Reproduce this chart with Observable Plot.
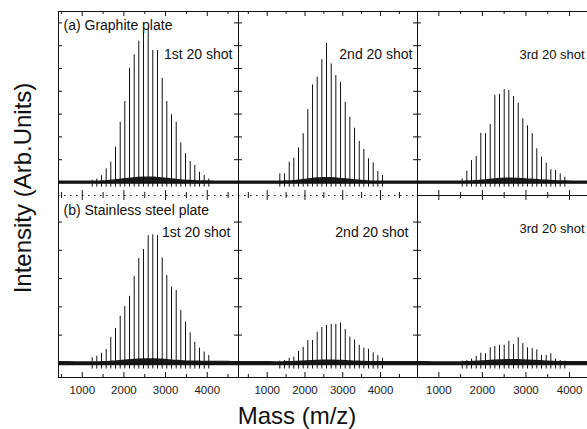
<!DOCTYPE html>
<html><head><meta charset="utf-8">
<script src="https://cdn.jsdelivr.net/npm/d3@7"></script>
<script src="https://cdn.jsdelivr.net/npm/@observablehq/plot@0.6"></script>
<style>
html,body{margin:0;padding:0;background:#fff;overflow:hidden;}
#chart{position:relative;width:587px;height:429px;overflow:hidden;font-family:"Liberation Sans",Arial,sans-serif;color:#111;background:#fff;}
#chart svg{position:absolute;overflow:visible;}
.lab{position:absolute;white-space:nowrap;font-size:24px;line-height:24px;color:#111;}
</style></head><body><div id="chart"></div>
<script>
// ---- data ----
const panelTitles = ["(a) Graphite plate", "(b) Stainless steel plate"];
const shotLabels = ["1st 20 shot", "2nd 20 shot", "3rd 20 shot"];
const xAxisTitle = "Mass (m/z)";
const yAxisTitle = "Intensity (Arb.Units)";

const massDomain1 = [430, 4750];
const massDomain2 = [240, 4979];
const massDomain3 = [511, 4619];
const graphiteYDomain = [-0.57, 7.5];
const steelYDomain = [-0.5, 5.94];
const graphiteYTicks = [0, 1, 2, 3, 4, 5, 6, 7];
const steelYTicks = [0, 1, 2, 3, 4, 5];
const xMajorTicks = [1000, 2000, 3000, 4000];
const xMinorTicks = [500, 1500, 2500, 3500, 4500];

const massCol1 = [1239, 1349, 1462, 1575, 1685, 1798, 1911, 2021, 2134, 2247, 2357, 2470, 2583, 2693, 2806, 2919, 3029, 3142, 3255, 3365, 3478, 3591, 3701, 3814, 3927, 4037];
const graphiteShot1 = [0.1, 0.15, 0.3, 0.6, 0.89, 1.55, 2.64, 3.55, 5.01, 5.6, 6.2, 6.57, 6.74, 5.79, 5.79, 4.57, 3.55, 2.97, 2.64, 1.74, 1.26, 0.92, 0.75, 0.45, 0.31, 0.15];
const steelShot1 = [0.2, 0.25, 0.36, 0.49, 0.92, 1.23, 1.67, 2.01, 2.37, 3.08, 3.71, 4.03, 4.52, 4.55, 4.52, 3.73, 3.11, 2.7, 2.58, 1.87, 1.46, 1.08, 0.75, 0.54, 0.4, 0.28];

const massCol2 = [1334, 1458, 1583, 1704, 1829, 1953, 2075, 2200, 2324, 2446, 2570, 2695, 2817, 2941, 3066, 3188, 3312, 3437, 3559, 3682, 3806, 3929, 4053];
const graphiteShot2 = [0.38, 0.38, 0.89, 1.07, 1.52, 2.14, 3.2, 4.28, 4.62, 5.39, 6.1, 5.2, 4.69, 4.39, 3.52, 2.86, 2.38, 1.8, 1.45, 1.04, 0.86, 0.48, 0.31];
const steelShot2 = [0.08, 0.1, 0.18, 0.22, 0.42, 0.57, 0.81, 0.81, 1.1, 1.27, 1.34, 1.38, 1.38, 1.43, 1.2, 0.93, 0.83, 0.64, 0.54, 0.5, 0.37, 0.28, 0.18];

const massCol3 = [1537, 1643, 1751, 1859, 1964, 2072, 2180, 2286, 2393, 2501, 2607, 2715, 2823, 2928, 3036, 3144, 3249, 3357, 3465, 3571, 3679, 3786, 3892];
const graphiteShot3 = [0.16, 0.5, 0.96, 1.14, 2.16, 2.14, 2.54, 3.82, 3.86, 4.07, 4.04, 3.77, 3.48, 2.79, 2.49, 2.14, 1.48, 1.11, 0.85, 0.56, 0.53, 0.38, 0.23];
const steelShot3 = [0.08, 0.1, 0.15, 0.25, 0.36, 0.34, 0.55, 0.6, 0.64, 0.64, 0.78, 0.66, 0.91, 0.7, 0.55, 0.52, 0.48, 0.28, 0.28, 0.34, 0.15, 0.1, 0.08];

// baseline noise envelope (dark band under the peaks)
const bandMass1 = [430, 1400, 1900, 2500, 3100, 3700, 4750];
const bandMass2 = [240, 1400, 1900, 2500, 3100, 3700, 4979];
const bandMass3 = [511, 1500, 2000, 2600, 3200, 3800, 4619];
const graphiteBand1 = [0.07, 0.07, 0.14, 0.24, 0.18, 0.09, 0.07];
const graphiteBand2 = [0.07, 0.07, 0.12, 0.22, 0.16, 0.08, 0.07];
const graphiteBand3 = [0.07, 0.07, 0.11, 0.2, 0.14, 0.08, 0.07];
const steelBand1 = [0.07, 0.06, 0.1, 0.16, 0.13, 0.08, 0.07];
const steelBand2 = [0.07, 0.06, 0.08, 0.12, 0.1, 0.07, 0.07];
const steelBand3 = [0.07, 0.06, 0.09, 0.14, 0.11, 0.07, 0.07];

// ---- layout ----
const chart = document.getElementById("chart");
const cols = [
  {left: 58, w: 180, xDomain: massDomain1, masses: massCol1, bandMass: bandMass1,
   shotTop: {anchor: "top-right", dx: -6, dy: 38, size: 14}, shotBot: {anchor: "top-right", dx: -8, dy: 32, size: 14}},
  {left: 238, w: 179, xDomain: massDomain2, masses: massCol2, bandMass: bandMass2,
   shotTop: {anchor: "top-right", dx: -5, dy: 38, size: 14}, shotBot: {anchor: "top-right", dx: -9, dy: 32, size: 14}},
  {left: 417, w: 179, xDomain: massDomain3, masses: massCol3, bandMass: bandMass3,
   shotTop: {anchor: "top-left", dx: 102, dy: 38, size: 13}, shotBot: {anchor: "top-left", dx: 102, dy: 28, size: 13}}
];
const rows = [
  {top: 11, h: 184, yDomain: graphiteYDomain, yTicks: graphiteYTicks,
   series: [graphiteShot1, graphiteShot2, graphiteShot3], bands: [graphiteBand1, graphiteBand2, graphiteBand3], titleDy: 9},
  {top: 195, h: 182, yDomain: steelYDomain, yTicks: steelYTicks,
   series: [steelShot1, steelShot2, steelShot3], bands: [steelBand1, steelBand2, steelBand3], titleDy: 10}
];

rows.forEach((r, ri) => {
  cols.forEach((c, ci) => {
    const w = c.w, h = r.h;
    const extraB = ri === 1 ? 26 : 0;
    const peaks = c.masses.map((m, i) => ({mass: m, h: r.series[ci][i]}));
    const band = c.bandMass.map((m, i) => ({mass: m, h: r.bands[ci][i]}));
    const inDom = v => v >= c.xDomain[0] && v <= c.xDomain[1];
    const majors = xMajorTicks.filter(inDom);
    const minors = xMinorTicks.filter(inDom);
    const shot = ri === 0 ? c.shotTop : c.shotBot;
    const marks = [
      Plot.areaY(band, {x: "mass", y1: -0.08, y2: "h", curve: "natural", fill: "#1a1a1a"}),
      Plot.ruleY([0], {stroke: "#111", strokeWidth: 1.6}),
      Plot.ruleX(peaks, {x: "mass", y1: -0.2, y2: "h", stroke: "#111", strokeWidth: 1}),
      // frame
      Plot.ruleX(c.xDomain, {stroke: "#111", strokeWidth: 1}),
      Plot.tickY(r.yTicks, {y: d => d, insetRight: w - 4, stroke: "#111"}),
      Plot.tickY(r.yTicks, {y: d => d, insetLeft: w - 4, stroke: "#111"}),
      Plot.tickX(majors, {x: d => d, insetTop: h - 5, stroke: "#111"}),
      Plot.tickX(majors, {x: d => d, insetBottom: h - 5, stroke: "#111"}),
      Plot.tickX(minors, {x: d => d, insetTop: h - 3, stroke: "#111"}),
      Plot.tickX(minors, {x: d => d, insetBottom: h - 3, stroke: "#111"}),
      Plot.text([panelTitles[ri]].filter(() => ci === 0), {frameAnchor: "top-left", text: d => d, dx: 5, dy: r.titleDy, lineAnchor: "top", fontSize: 14, fill: "#111"}),
      Plot.text([shotLabels[ci]], {frameAnchor: shot.anchor, text: d => d, dx: shot.dx, dy: shot.dy, lineAnchor: "top", fontSize: shot.size, fill: "#111"})
    ];
    if (ri === 0) {
      marks.push(Plot.ruleY([r.yDomain[1]], {stroke: "#111"}));
      marks.push(Plot.ruleY([r.yDomain[0]], ci < 2 ? {stroke: "#111", strokeDasharray: "1.5,4.5"} : {stroke: "#111"}));
    } else {
      marks.push(Plot.ruleY([r.yDomain[0]], {stroke: "#111"}));
      marks.push(Plot.axisX(majors, {anchor: "bottom", tickSize: 0, tickPadding: 8, tickFormat: d => String(d), fontSize: 11.5, fill: "#222", label: null}));
    }
    const svg = Plot.plot({
      width: w + 2, height: h + 2 + extraB,
      marginTop: 1, marginLeft: 1, marginRight: 1, marginBottom: 1 + extraB,
      x: {domain: c.xDomain, label: null, ...(ri === 0 ? {axis: null} : {})},
      y: {domain: r.yDomain, axis: null},
      style: {background: "transparent", fontFamily: "Liberation Sans, Arial, sans-serif", fontSize: "11.5px", overflow: "visible"},
      marks
    });
    svg.style.left = (c.left - 1) + "px";
    svg.style.top = (r.top - 1) + "px";
    chart.appendChild(svg);
  });
});

const yl = document.createElement("div");
yl.className = "lab";
yl.textContent = yAxisTitle;
yl.style.left = "23px"; yl.style.top = "188px";
yl.style.transform = "translate(-50%,-50%) rotate(-90deg)";
chart.appendChild(yl);

const xl = document.createElement("div");
xl.className = "lab";
xl.textContent = xAxisTitle;
xl.style.left = "297px"; xl.style.top = "404px";
xl.style.transform = "translateX(-50%)";
chart.appendChild(xl);
</script></body></html>
